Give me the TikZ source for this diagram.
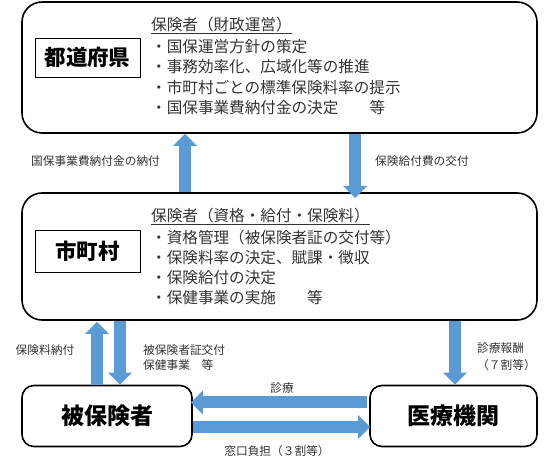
\documentclass[tikz,border=0pt]{standalone}
\usepackage{fontspec}
\newfontfamily\jp{Noto Sans CJK JP}
\usetikzlibrary{arrows.meta,calc}
\definecolor{arrblue}{HTML}{5B9BD5}
\definecolor{txtgray}{HTML}{333333}
\tikzset{
  bigbox/.style={draw, line width=1.6pt, rounded corners=20pt, inner sep=0pt},
  endbox/.style={draw, line width=1.6pt, rounded corners=12pt, inner sep=0pt,
    font=\jp\bfseries\fontsize{23}{26}\selectfont},
  labbox/.style={draw, line width=0.8pt, inner sep=0pt,
    font=\jp\bfseries\fontsize{21.5}{24}\selectfont},
  bodytxt/.style={anchor=base west, inner sep=0pt, text=txtgray,
    font=\jp\fontsize{15.6}{18}\selectfont},
  smalltxt/.style={anchor=base west, inner sep=0pt, text=txtgray,
    font=\jp\fontsize{11.7}{14}\selectfont},
  blockarrow/.style={draw=arrblue, line width=12pt,
    -{Triangle[width=24pt,length=12pt,line width=0pt]}},
}
\begin{document}
\begin{tikzpicture}[x=1pt,y=-1pt]
\useasboundingbox (0,0) rectangle (552,470);
% main boxes
\node[bigbox, minimum width=515pt, minimum height=131pt] (pref) at (279.5,67.5) {};
\node[bigbox, minimum width=515pt, minimum height=127pt] (muni) at (279.5,256.5) {};
\node[endbox, minimum width=170pt, minimum height=61pt] (ins) at (107,416) {被保険者};
\node[endbox, minimum width=167pt, minimum height=61pt] (med) at (453.5,416) {医療機関};
% label boxes
\node[labbox, minimum width=105pt, minimum height=39pt] (prefl) at (87.5,57.5) {都道府県};
\node[labbox, minimum width=105pt, minimum height=42pt] (munil) at (87.5,251) {市町村};
% prefecture text
\node[bodytxt] (h1) at (151,31) {保険者（財政運営）};
\draw[txtgray, line width=0.6pt] ($(h1.base west)+(0,2.5)$) -- ($(h1.base east)+(0,2.5)$);
\node[bodytxt] (p1) at (151,52.5) {・国保運営方針の策定};
\node[bodytxt] (p2) at (151,73) {・事務効率化、広域化等の推進};
\node[bodytxt] (p3) at (151,93.5) {・市町村ごとの標準保険料率の提示};
\node[bodytxt] (p4) at (151,114) {・国保事業費納付金の決定　　等};
% municipality text
\node[bodytxt] (h2) at (151,222) {保険者（資格・給付・保険料）};
\draw[txtgray, line width=0.6pt] ($(h2.base west)+(0,2.5)$) -- ($(h2.base east)+(0,2.5)$);
\node[bodytxt] (m1) at (151,244) {・資格管理（被保険者証の交付等）};
\node[bodytxt] (m2) at (151,263.5) {・保険料率の決定、賦課・徴収};
\node[bodytxt] (m3) at (151,283.5) {・保険給付の決定};
\node[bodytxt] (m4) at (151,303.5) {・保健事業の実施　　等};
% arrows
\coordinate (xa) at (185,0);
\coordinate (xb) at (355,0);
\coordinate (xc) at (97,0);
\coordinate (xd) at (120,0);
\coordinate (xe) at (455,0);
\coordinate (ya) at (0,402.5);
\coordinate (yb) at (0,427);
\coordinate (tipb) at (355,198);
\draw[blockarrow] (xa |- muni.north) -- (xa |- pref.south);
\draw[blockarrow] (xb |- pref.south) -- (tipb);
\draw[blockarrow] (xc |- ins.north) -- ($(xc |- muni.south)+(0,1)$);
\draw[blockarrow] (xd |- muni.south) -- (xd |- ins.north);
\draw[blockarrow] (xe |- muni.south) -- (xe |- med.north);
\draw[blockarrow] ($(med.west |- ya)+(-2,0)$) -- ($(ins.east |- ya)+(-2,0)$);
\draw[blockarrow] (ins.east |- yb) -- ($(med.west |- yb)+(1,0)$);
% arrow labels
\node[smalltxt] (l1) at (31,166) {国保事業費納付金の納付};
\node[smalltxt] (l2) at (375,166) {保険給付費の交付};
\node[smalltxt] (l3) at (15.5,355) {保険料納付};
\node[smalltxt] (l4) at (143,355) {被保険者証交付};
\node[smalltxt] (l5) at (143,370) {保健事業　等};
\node[smalltxt] (l6) at (477,353) {診療報酬};
\node[smalltxt] (l7) at (477,369.5) {（７割等）};
\node[smalltxt, anchor=base] (l8) at (282,393) {診療};
\node[smalltxt, anchor=base] (l9) at (277,456) {窓口負担（３割等）};
\end{tikzpicture}
\end{document}
